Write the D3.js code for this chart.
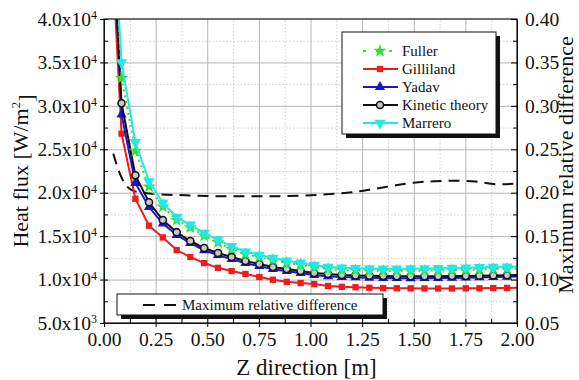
<!DOCTYPE html>
<html><head><meta charset="utf-8">
<script src="https://cdn.jsdelivr.net/npm/d3@7"></script>
<style>
body{margin:0;background:#fff;}
svg{display:block;}
text{font-family:"Liberation Serif","Times New Roman",serif;fill:#111;}
</style></head>
<body>
<svg id="chart" width="579" height="380"></svg>
<script>
// ---------- data ----------
const zPos = [0.018, 0.085, 0.152, 0.218, 0.285, 0.352, 0.418, 0.485, 0.552, 0.618, 0.685, 0.752, 0.818, 0.885, 0.952, 1.018, 1.085, 1.152, 1.218, 1.285, 1.352, 1.418, 1.485, 1.552, 1.618, 1.685, 1.752, 1.818, 1.885, 1.952, 2.0];
const fuller    = [63600, 33200, 24800, 20700, 18380, 16850, 16000, 15050, 14270, 13530, 12900, 12580, 12240, 11920, 11680, 11440, 11210, 11100, 11050, 11010, 11000, 11000, 11010, 11030, 11050, 11080, 11120, 11160, 11200, 11230, 11250];
const gilliland = [57300, 26800, 19300, 16200, 14850, 13400, 12600, 11900, 11350, 10980, 10640, 10300, 9980, 9740, 9600, 9480, 9270, 9160, 9120, 9060, 9020, 9000, 8990, 8980, 8980, 8980, 8990, 9000, 9020, 9040, 9050];
const yadav     = [64300, 29000, 21100, 18350, 16450, 15130, 14190, 13380, 12810, 12350, 11890, 11550, 11200, 10970, 10750, 10510, 10390, 10290, 10250, 10210, 10180, 10160, 10150, 10160, 10170, 10190, 10220, 10250, 10290, 10330, 10360];
const kinetic   = [59800, 30300, 22000, 18900, 16850, 15450, 14440, 13630, 13060, 12600, 12140, 11800, 11450, 11220, 11000, 10760, 10640, 10530, 10480, 10440, 10400, 10380, 10370, 10370, 10380, 10400, 10420, 10450, 10480, 10500, 10520];
const marrero   = [62000, 35000, 25800, 21300, 18830, 17200, 16300, 15350, 14570, 13830, 13200, 12830, 12490, 12170, 11930, 11690, 11460, 11350, 11300, 11260, 11250, 11250, 11260, 11280, 11300, 11330, 11370, 11410, 11450, 11480, 11500];
const mrdZ = [0.045, 0.07, 0.1, 0.13, 0.17, 0.25, 0.4, 0.55, 0.7, 0.85, 1.0, 1.1, 1.2, 1.3, 1.4, 1.5, 1.6, 1.7, 1.8, 1.9, 2.0];
const mrdV = [0.245, 0.226, 0.211, 0.2035, 0.2005, 0.1985, 0.197, 0.196, 0.1958, 0.196, 0.197, 0.1985, 0.2005, 0.204, 0.208, 0.2115, 0.2132, 0.2138, 0.2128, 0.2098, 0.2105];
const seriesNames = ["Fuller", "Gilliland", "Yadav", "Kinetic theory", "Marrero"];
const xTicks = [0, 0.25, 0.5, 0.75, 1.0, 1.25, 1.5, 1.75, 2.0];
const yTicks = [5000, 10000, 15000, 20000, 25000, 30000, 35000, 40000];
const yTickMant = ["5.0", "1.0", "1.5", "2.0", "2.5", "3.0", "3.5", "4.0"];
const yTickExp  = ["3", "4", "4", "4", "4", "4", "4", "4"];
const y2Ticks = [0.05, 0.10, 0.15, 0.20, 0.25, 0.30, 0.35, 0.40];
const xTitle = "Z direction [m]";
const yTitle = "Heat flux [W/m";
const y2Title = "Maximum relative difference";
const mrdLabel = "Maximum relative difference";

// ---------- layout ----------
const L = 104, R = 517, T = 19, B = 323;
const svg = d3.select("#chart");
const x = d3.scaleLinear().domain([0, 2]).range([L, R]);
const y = d3.scaleLinear().domain([5000, 40000]).range([B, T]);
const y2 = d3.scaleLinear().domain([0.05, 0.40]).range([B, T]);

// grid minor
const xMinor = d3.range(0.125, 2, 0.25);
const yMinor = d3.range(7500, 40000, 5000);
svg.append("g").attr("transform", `translate(0,${B})`)
  .call(d3.axisBottom(x).tickValues(xMinor).tickSize(-(B - T)).tickFormat(""))
  .call(g => { g.select(".domain").remove(); g.selectAll("line").attr("stroke", "#d0d0d0").attr("stroke-dasharray", "1.5,2"); });
svg.append("g").attr("transform", `translate(${L},0)`)
  .call(d3.axisLeft(y).tickValues(yMinor).tickSize(-(R - L)).tickFormat(""))
  .call(g => { g.select(".domain").remove(); g.selectAll("line").attr("stroke", "#d0d0d0").attr("stroke-dasharray", "1.5,2"); });
// grid major
svg.append("g").attr("transform", `translate(0,${B})`)
  .call(d3.axisBottom(x).tickValues(xTicks.slice(1, -1)).tickSize(-(B - T)).tickFormat(""))
  .call(g => { g.select(".domain").remove(); g.selectAll("line").attr("stroke", "#b4b4b4").attr("stroke-width", 1); });
svg.append("g").attr("transform", `translate(${L},0)`)
  .call(d3.axisLeft(y).tickValues(yTicks.slice(1, -1)).tickSize(-(R - L)).tickFormat(""))
  .call(g => { g.select(".domain").remove(); g.selectAll("line").attr("stroke", "#b4b4b4").attr("stroke-width", 1); });

// clip
svg.append("defs").append("clipPath").attr("id", "clip")
  .append("rect").attr("x", L).attr("y", T).attr("width", R - L).attr("height", B - T);
const plot = svg.append("g").attr("clip-path", "url(#clip)");

// dashed max relative difference
const mrdData = mrdZ.map((z, i) => [z, mrdV[i]]);
plot.append("path").datum(mrdData)
  .attr("fill", "none").attr("stroke", "#111").attr("stroke-width", 2)
  .attr("stroke-dasharray", "11,7")
  .attr("d", d3.line().x(d => x(d[0])).y(d => y2(d[1])).curve(d3.curveMonotoneX));

const styles = [
  {name: seriesNames[0], vals: fuller, color: "#33dd33", dash: "2,4", sym: d3.symbolStar, size: 55, fill: "#33dd33", stroke: "none"},
  {name: seriesNames[1], vals: gilliland, color: "#ee1c1c", dash: null, sym: d3.symbolSquare, size: 40, fill: "#ee1c1c", stroke: "none"},
  {name: seriesNames[2], vals: yadav, color: "#1515d8", dash: null, sym: d3.symbolTriangle, size: 45, fill: "#1515d8", stroke: "none"},
  {name: seriesNames[3], vals: kinetic, color: "#111111", dash: null, sym: d3.symbolCircle, size: 40, fill: "#c8c8c8", stroke: "#111"},
  {name: seriesNames[4], vals: marrero, color: "#22e8e8", dash: null, sym: d3.symbolTriangle, size: 55, fill: "#22e8e8", stroke: "none", rot: 180}
];
const drawOrder = [1, 2, 3, 0, 4];
const line = d3.line().x(d => x(d[0])).y(d => y(d[1]));
drawOrder.forEach(si => {
  const s = styles[si];
  const data = zPos.map((z, i) => [z, s.vals[i]]);
  plot.append("path").datum(data)
    .attr("fill", "none").attr("stroke", s.color).attr("stroke-width", 2)
    .attr("stroke-dasharray", s.dash)
    .attr("d", line);
  plot.selectAll(null).data(data.filter(d => d[0] > 0.05 && d[0] < 1.99)).enter()
    .append("path")
    .attr("transform", d => `translate(${x(d[0])},${y(d[1])}) rotate(${s.rot || 0})`)
    .attr("d", d3.symbol().type(s.sym).size(s.size))
    .attr("fill", s.fill).attr("stroke", s.stroke).attr("stroke-width", s.stroke === "none" ? 0 : 1.6);
});

// frame
svg.append("rect").attr("x", L).attr("y", T).attr("width", R - L).attr("height", B - T)
  .attr("fill", "none").attr("stroke", "#111").attr("stroke-width", 1.2);

// axes
const fs = 19.5;
const gx = svg.append("g").attr("transform", `translate(0,${B})`)
  .call(d3.axisBottom(x).tickValues(xTicks).tickSizeInner(4).tickSizeOuter(0).tickPadding(5).tickFormat(d3.format(".2f")));
gx.selectAll(".tick line").attr("y1", -4);
gx.selectAll("text").style("font-size", fs + "px");
svg.append("g").attr("transform", `translate(0,${B})`)
  .call(d3.axisBottom(x).tickValues(xMinor).tickSize(-4).tickFormat(""))
  .call(g => g.select(".domain").remove());

const gy = svg.append("g").attr("transform", `translate(${L},0)`)
  .call(d3.axisLeft(y).tickValues(yTicks).tickSizeInner(4).tickSizeOuter(0).tickPadding(3));
gy.selectAll(".tick line").attr("x1", 4);
gy.selectAll(".tick text").text(null).style("font-size", fs + "px").each(function(d, i) {
  const t = d3.select(this);
  t.append("tspan").text(yTickMant[i] + "x10");
  t.append("tspan").text(yTickExp[i]).attr("dy", "-0.55em").style("font-size", "12px");
});
svg.append("g").attr("transform", `translate(${L},0)`)
  .call(d3.axisLeft(y).tickValues(yMinor).tickSize(-4).tickFormat(""))
  .call(g => g.select(".domain").remove());

const gy2 = svg.append("g").attr("transform", `translate(${R},0)`)
  .call(d3.axisRight(y2).tickValues(y2Ticks).tickSizeInner(-6).tickSizeOuter(0).tickPadding(8).tickFormat(d3.format(".2f")));
gy2.selectAll("text").style("font-size", fs + "px");
svg.append("g").attr("transform", `translate(${R},0)`)
  .call(d3.axisRight(y2).tickValues(d3.range(0.075, 0.40, 0.05)).tickSize(-4).tickFormat(""))
  .call(g => g.select(".domain").remove());
svg.selectAll(".domain").attr("stroke", "#111");

// titles
svg.append("text").attr("x", (L + R) / 2 - 4).attr("y", 375).attr("text-anchor", "middle")
  .style("font-size", "23px").text(xTitle);
const yt = svg.append("text").attr("transform", `translate(28,${(T + B) / 2}) rotate(-90)`)
  .attr("text-anchor", "middle").style("font-size", "22px");
yt.append("tspan").text(yTitle);
yt.append("tspan").text("2").attr("dy", "-0.6em").style("font-size", "13px");
yt.append("tspan").text("]").attr("dy", "0.6em");
svg.append("text").attr("transform", `translate(573,${(T + B) / 2 - 6}) rotate(-90)`)
  .attr("text-anchor", "middle").style("font-size", "22px").text(y2Title);

// legend 1
const lg = svg.append("g");
lg.append("rect").attr("x", 346).attr("y", 36).attr("width", 154).attr("height", 102).attr("fill", "#111");
lg.append("rect").attr("x", 342).attr("y", 32).attr("width", 154).attr("height", 102).attr("fill", "#fff").attr("stroke", "#111").attr("stroke-width", 1);
styles.forEach((s, i) => {
  const cy = 51 + i * 18;
  lg.append("line").attr("x1", 363).attr("x2", 398).attr("y1", cy).attr("y2", cy)
    .attr("stroke", s.color).attr("stroke-width", 2).attr("stroke-dasharray", s.dash ? "3,10" : null);
  lg.append("path").attr("transform", `translate(380,${cy}) rotate(${s.rot || 0})`)
    .attr("d", d3.symbol().type(s.sym).size(s.size)).attr("fill", s.fill).attr("stroke", s.stroke).attr("stroke-width", s.stroke === "none" ? 0 : 1.6);
  lg.append("text").attr("x", 402).attr("y", cy).attr("dy", "0.35em").style("font-size", "15px").text(s.name);
});

// legend 2
const lg2 = svg.append("g");
lg2.append("rect").attr("x", 121).attr("y", 298).attr("width", 266).attr("height", 21).attr("fill", "#111");
lg2.append("rect").attr("x", 117).attr("y", 294).attr("width", 266).attr("height", 21).attr("fill", "#fff").attr("stroke", "#111");
lg2.append("line").attr("x1", 143).attr("x2", 176).attr("y1", 305).attr("y2", 305)
  .attr("stroke", "#111").attr("stroke-width", 2).attr("stroke-dasharray", "12,9");
lg2.append("text").attr("x", 182).attr("y", 305).attr("dy", "0.35em").style("font-size", "15px").text(mrdLabel);
</script>
</body></html>
